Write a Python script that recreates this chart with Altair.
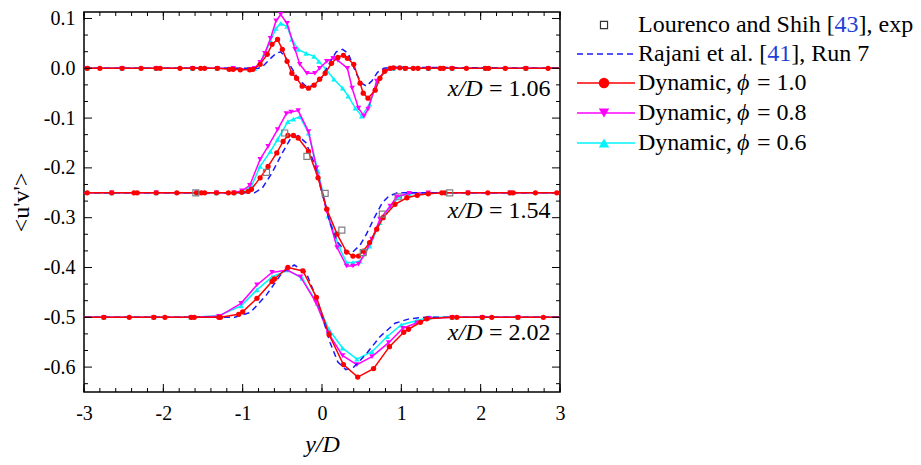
import altair as alt
import pandas as pd

SERIF = "Liberation Serif"

# ---------------- data ----------------
stations = ["1.06", "1.54", "2.02"]

red_106 = [(-3.0,0),(-2.96,0),(-2.8,0),(-2.52,0),(-2.28,0),(-2.09,0),(-2.04,0),(-1.79,0),(-1.63,0),(-1.53,0),(-1.48,0),(-1.32,0),(-1.17,-0.002),(-1.12,-0.002),(-1.03,-0.003),(-0.91,-0.003),(-0.87,-0.002),(-0.78,0.008),(-0.69,0.028),(-0.63,0.048),(-0.56,0.058),(-0.5,0.038),(-0.44,0.014),(-0.38,-0.01),(-0.32,-0.02),(-0.25,-0.036),(-0.17,-0.04),(-0.1,-0.034),(-0.03,-0.022),(0.04,-0.01),(0.12,0.01),(0.2,0.022),(0.27,0.026),(0.32,0.02),(0.4,0.008),(0.48,-0.03),(0.52,-0.05),(0.58,-0.06),(0.67,-0.044),(0.73,-0.02),(0.79,-0.006),(0.86,0.0),(0.9,0.001),(0.98,0.001),(1.05,0),(1.15,0),(1.21,0),(1.34,0),(1.49,0),(1.53,0),(1.64,0),(1.82,0),(2.06,0),(2.1,0),(2.31,0),(2.57,0),(2.85,0),(3.0,0)]
mag_106 = [(-3.0,0),(-2.96,0),(-2.52,0),(-2.09,0),(-1.63,0),(-1.32,0),(-1.12,0),(-0.91,-0.002),(-0.85,0.0),(-0.78,0.012),(-0.72,0.03),(-0.65,0.06),(-0.58,0.095),(-0.52,0.108),(-0.44,0.09),(-0.34,0.038),(-0.28,0.008),(-0.19,-0.01),(-0.09,-0.01),(-0.03,0.0),(0.06,0.014),(0.14,0.02),(0.2,0.016),(0.32,0.0),(0.38,-0.04),(0.46,-0.08),(0.53,-0.096),(0.58,-0.082),(0.69,-0.026),(0.79,-0.006),(0.9,0.0),(1.05,0),(1.34,0),(1.64,0),(2.06,0),(2.57,0),(3.0,0)]
cyan_106 = [(-3.0,0),(-2.96,0),(-2.52,0),(-2.09,0),(-1.63,0),(-1.32,0),(-1.12,0),(-0.91,-0.002),(-0.85,0.0),(-0.78,0.01),(-0.72,0.03),(-0.65,0.055),(-0.58,0.08),(-0.52,0.09),(-0.44,0.084),(-0.38,0.058),(-0.3,0.038),(-0.2,0.03),(-0.1,0.024),(-0.04,0.014),(0.05,-0.002),(0.15,-0.022),(0.26,-0.04),(0.33,-0.056),(0.42,-0.08),(0.5,-0.096),(0.6,-0.072),(0.7,-0.026),(0.8,-0.002),(0.9,0.0),(1.05,0),(1.34,0),(1.64,0),(2.06,0),(2.57,0),(3.0,0)]
blue_106 = [(-3.0,0),(-0.8,0),(-0.74,0.005),(-0.66,0.018),(-0.58,0.03),(-0.52,0.033),(-0.45,0.02),(-0.38,0.0),(-0.3,-0.022),(-0.2,-0.036),(-0.1,-0.035),(0.0,-0.018),(0.1,0.012),(0.18,0.033),(0.26,0.038),(0.33,0.03),(0.43,-0.01),(0.5,-0.03),(0.56,-0.036),(0.63,-0.025),(0.7,-0.008),(0.78,0.0),(0.9,0.002),(3.0,0)]

red_154 = [(-3.0,-0.25),(-2.96,-0.25),(-2.65,-0.25),(-2.37,-0.25),(-2.33,-0.25),(-2.09,-0.25),(-1.83,-0.25),(-1.58,-0.25),(-1.52,-0.25),(-1.48,-0.25),(-1.33,-0.25),(-1.18,-0.25),(-1.11,-0.25),(-1.01,-0.249),(-0.93,-0.247),(-0.89,-0.243),(-0.78,-0.22),(-0.68,-0.197),(-0.57,-0.17),(-0.49,-0.147),(-0.43,-0.135),(-0.36,-0.135),(-0.3,-0.14),(-0.17,-0.167),(-0.05,-0.22),(0.06,-0.283),(0.19,-0.333),(0.31,-0.369),(0.39,-0.377),(0.46,-0.377),(0.52,-0.367),(0.6,-0.35),(0.69,-0.323),(0.77,-0.3),(0.92,-0.273),(1.07,-0.26),(1.2,-0.255),(1.34,-0.252),(1.51,-0.25),(1.55,-0.25),(1.84,-0.25),(2.09,-0.25),(2.37,-0.25),(2.41,-0.25),(2.69,-0.25),(2.96,-0.25),(3.0,-0.25)]
mag_154 = [(-3.0,-0.25),(-2.65,-0.25),(-2.09,-0.25),(-1.58,-0.25),(-1.33,-0.25),(-1.11,-0.25),(-1.01,-0.246),(-0.91,-0.235),(-0.78,-0.183),(-0.68,-0.157),(-0.56,-0.123),(-0.45,-0.091),(-0.39,-0.088),(-0.3,-0.085),(-0.17,-0.127),(-0.07,-0.2),(0.06,-0.287),(0.19,-0.36),(0.31,-0.397),(0.39,-0.397),(0.46,-0.393),(0.54,-0.373),(0.63,-0.343),(0.73,-0.303),(0.86,-0.277),(0.94,-0.258),(1.1,-0.251),(1.34,-0.25),(1.84,-0.25),(2.37,-0.25),(3.0,-0.25)]
cyan_154 = [(-3.0,-0.25),(-2.65,-0.25),(-2.09,-0.25),(-1.58,-0.25),(-1.33,-0.25),(-1.11,-0.25),(-1.01,-0.247),(-0.89,-0.237),(-0.78,-0.197),(-0.65,-0.167),(-0.56,-0.143),(-0.43,-0.107),(-0.36,-0.102),(-0.28,-0.097),(-0.17,-0.13),(-0.05,-0.207),(0.08,-0.297),(0.21,-0.357),(0.31,-0.39),(0.39,-0.39),(0.48,-0.387),(0.6,-0.357),(0.73,-0.31),(0.86,-0.277),(0.98,-0.257),(1.1,-0.252),(1.34,-0.25),(1.84,-0.25),(2.37,-0.25),(3.0,-0.25)]
blue_154 = [(-3.0,-0.25),(-0.85,-0.25),(-0.75,-0.24),(-0.63,-0.21),(-0.5,-0.17),(-0.4,-0.142),(-0.3,-0.135),(-0.2,-0.15),(-0.1,-0.19),(0.0,-0.25),(0.1,-0.31),(0.2,-0.35),(0.3,-0.368),(0.38,-0.37),(0.48,-0.355),(0.56,-0.333),(0.66,-0.3),(0.76,-0.27),(0.84,-0.257),(0.95,-0.25),(3.0,-0.25)]
exp_154 = [(-1.59,-0.25),(-0.7,-0.209),(-0.47,-0.13),(-0.19,-0.177),(0.04,-0.251),(0.25,-0.325),(0.52,-0.37),(0.76,-0.293),(0.96,-0.258),(1.61,-0.25)]

red_202 = [(-3.0,-0.5),(-2.75,-0.5),(-2.43,-0.5),(-2.12,-0.5),(-1.98,-0.5),(-1.65,-0.5),(-1.61,-0.5),(-1.3,-0.5),(-1.28,-0.5),(-1.05,-0.494),(-1.0,-0.489),(-0.82,-0.462),(-0.63,-0.428),(-0.6,-0.423),(-0.43,-0.4),(-0.24,-0.407),(-0.07,-0.46),(0.09,-0.535),(0.27,-0.595),(0.45,-0.62),(0.65,-0.603),(0.85,-0.559),(1.03,-0.53),(1.09,-0.524),(1.24,-0.51),(1.32,-0.503),(1.64,-0.5),(1.7,-0.5),(2.02,-0.5),(2.14,-0.5),(2.47,-0.5),(2.79,-0.5),(3.0,-0.5)]
mag_202 = [(-3.0,-0.5),(-2.75,-0.5),(-2.12,-0.5),(-1.65,-0.5),(-1.3,-0.498),(-1.02,-0.472),(-0.82,-0.435),(-0.63,-0.41),(-0.44,-0.405),(-0.27,-0.419),(-0.08,-0.469),(0.08,-0.532),(0.26,-0.577),(0.44,-0.595),(0.63,-0.579),(0.84,-0.551),(1.02,-0.522),(1.2,-0.511),(1.35,-0.502),(1.64,-0.5),(2.02,-0.5),(2.47,-0.5),(3.0,-0.5)]
cyan_202 = [(-3.0,-0.5),(-2.75,-0.5),(-2.12,-0.5),(-1.65,-0.5),(-1.3,-0.497),(-1.02,-0.477),(-0.82,-0.445),(-0.63,-0.419),(-0.43,-0.405),(-0.25,-0.422),(-0.06,-0.472),(0.09,-0.525),(0.26,-0.562),(0.44,-0.584),(0.63,-0.569),(0.82,-0.539),(1.0,-0.515),(1.19,-0.507),(1.35,-0.5),(1.64,-0.5),(2.02,-0.5),(2.47,-0.5),(3.0,-0.5)]
blue_202 = [(-3.0,-0.5),(-1.1,-0.5),(-0.9,-0.49),(-0.7,-0.455),(-0.5,-0.41),(-0.35,-0.395),(-0.2,-0.41),(-0.05,-0.47),(0.1,-0.55),(0.2,-0.59),(0.3,-0.605),(0.4,-0.6),(0.55,-0.575),(0.73,-0.539),(0.92,-0.512),(1.1,-0.503),(1.3,-0.5),(3.0,-0.5)]

ann_x = [2.88, 2.88, 2.88]
ann_y = [-0.056, -0.30, -0.546]

x_major = [-3, -2, -1, 0, 1, 2, 3]
y_major = [-0.6, -0.5, -0.4, -0.3, -0.2, -0.1, 0.0, 0.1]
x_minor = [round(-3 + 0.2 * i, 1) for i in range(31)]
y_minor = [round(k / 30, 4) for k in range(-19, 4) if k % 3 != 0]

# ---------------- build table ----------------
rows = []
for series, groups in [
    ("red", [red_106, red_154, red_202]),
    ("mag", [mag_106, mag_154, mag_202]),
    ("cyan", [cyan_106, cyan_154, cyan_202]),
    ("blue", [blue_106, blue_154, blue_202]),
    ("exp", [[], exp_154, []]),
]:
    for st, pts in zip(stations, groups):
        for x, y in pts:
            rows.append({"series": series, "station": st, "x": x, "y": y})
df = pd.DataFrame(rows)
ann_df = pd.DataFrame({"x": ann_x, "y": ann_y, "label": ["= " + s for s in stations]})

W, H = 476, 380

xaxis = alt.Axis(values=x_major, ticks=False, tickSize=0, domain=False, grid=False,
                 labelFont=SERIF, labelFontSize=20, labelColor="black", labelPadding=11,
                 labelOverlap=False, labelFlush=False, format="d",
                 labelExpr="replace(datum.label, '\u2212', '-')",
                 title="y/D", titleFont=SERIF, titleFontStyle="italic", titleFontWeight="normal",
                 titleFontSize=24, titleColor="black", titlePadding=9)
yaxis = alt.Axis(values=y_major, ticks=False, tickSize=0, domain=False, grid=False,
                 labelFont=SERIF, labelFontSize=20, labelColor="black", labelPadding=9,
                 labelOverlap=False, labelFlush=False, format=".1f",
                 labelExpr="replace(datum.label, '\u2212', '-')",
                 title="<u'v'>", titleFont=SERIF, titleFontWeight="normal",
                 titleFontSize=24, titleColor="black", titlePadding=10)

X = alt.X("x:Q", scale=alt.Scale(domain=[-3, 3], nice=False, zero=False), axis=xaxis)
Y = alt.Y("y:Q", scale=alt.Scale(domain=[-0.65, 0.113], nice=False, zero=False), axis=yaxis)

base = alt.Chart(df)


def lines(series, color, dash=None, width=1.5):
    kw = dict(color=color, strokeWidth=width)
    if dash:
        kw["strokeDash"] = dash
    return base.transform_filter(alt.datum.series == series).mark_line(**kw).encode(
        x=X, y=Y, detail="station:N")


def points(series, color, shape, size):
    return base.transform_filter(alt.datum.series == series).transform_filter(
        "abs(datum.x) < 2.99").mark_point(shape=shape, filled=True, color=color, size=size,
                                          opacity=1).encode(x=X, y=Y)


RED, MAG, CYAN, BLUE, GRAY = "#ff0000", "#ff00ff", "#00f4fa", "#1a1aff", "#808080"

layers = [
    lines("cyan", CYAN), points("cyan", CYAN, "triangle-up", 30),
    lines("mag", MAG), points("mag", MAG, "triangle-down", 30),
    lines("blue", BLUE, dash=[6, 4]),
    lines("red", RED), points("red", RED, "circle", 28),
    base.transform_filter(alt.datum.series == "exp").mark_point(
        shape="square", filled=False, color=GRAY, size=36, strokeWidth=1.2, opacity=1
    ).encode(x=X, y=Y),
]

# tick marks (inside, all four sides)
xt_major = alt.Chart(pd.DataFrame({"x": x_major}))
xt_minor = alt.Chart(pd.DataFrame({"x": x_minor}))
yt_major = alt.Chart(pd.DataFrame({"y": y_major}))
yt_minor = alt.Chart(pd.DataFrame({"y": y_minor}))
tk = dict(color="black", strokeWidth=1)
layers += [
    xt_major.mark_rule(**tk).encode(x=X, y=alt.value(H), y2=alt.value(H - 8)),
    xt_major.mark_rule(**tk).encode(x=X, y=alt.value(0), y2=alt.value(8)),
    xt_minor.mark_rule(**tk).encode(x=X, y=alt.value(H), y2=alt.value(H - 4)),
    xt_minor.mark_rule(**tk).encode(x=X, y=alt.value(0), y2=alt.value(4)),
    yt_major.mark_rule(**tk).encode(y=Y, x=alt.value(0), x2=alt.value(8)),
    yt_major.mark_rule(**tk).encode(y=Y, x=alt.value(W), x2=alt.value(W - 8)),
    yt_minor.mark_rule(**tk).encode(y=Y, x=alt.value(0), x2=alt.value(4)),
    yt_minor.mark_rule(**tk).encode(y=Y, x=alt.value(W), x2=alt.value(W - 4)),
]

# station annotations
ann = alt.Chart(ann_df)
layers += [
    ann.mark_text(align="right", baseline="alphabetic", font=SERIF, fontSize=24,
                  color="black").encode(x=X, y=Y, text="label:N"),
    ann.mark_text(align="right", baseline="alphabetic", font=SERIF, fontSize=24,
                  fontStyle="italic", color="black", dx=-68, text="x/D").encode(x=X, y=Y),
]

# legend (drawn manually to the right of the plot)
one = alt.Chart(pd.DataFrame({"a": [0]}))
LX0, LX1, LXM, LT = 493, 551, 520, 554
rows_y = [13, 42, 71, 101, 131]


def ltext(txt, x, y, color="black", style="normal"):
    return one.mark_text(text=txt, align="left", baseline="middle", font=SERIF, fontSize=24,
                         color=color, fontStyle=style).encode(x=alt.value(x), y=alt.value(y))


y0, y1, y2, y3, y4 = rows_y
layers += [
    one.mark_point(shape="square", filled=False, color="#333333", size=50, strokeWidth=1.2,
                   opacity=1).encode(x=alt.value(LXM), y=alt.value(y0)),
    ltext("Lourenco and Shih [", LT, y0), ltext("43", LT + 196.6, y0, color="#1f3fd8"),
    ltext("], exp", LT + 220.6, y0),
    one.mark_rule(color=BLUE, strokeWidth=1.5, strokeDash=[6, 4]).encode(
        x=alt.value(LX0), x2=alt.value(LX1), y=alt.value(y1)),
    ltext("Rajani et al. [", LT, y1), ltext("41", LT + 129.3, y1, color="#1f3fd8"),
    ltext("], Run 7", LT + 153.3, y1),
]
for yy, col, shp, val in [(y2, RED, "circle", "1.0"), (y3, MAG, "triangle-down", "0.8"),
                          (y4, CYAN, "triangle-up", "0.6")]:
    layers += [
        one.mark_rule(color=col, strokeWidth=1.5).encode(
            x=alt.value(LX0), x2=alt.value(LX1), y=alt.value(yy)),
        one.mark_point(shape=shp, filled=True, color=col, size=110, opacity=1).encode(
            x=alt.value(LXM), y=alt.value(yy)),
        ltext("Dynamic,", LT, yy), ltext("\u03d5", LT + 99, yy, style="italic"),
        ltext("= " + val, LT + 119, yy),
    ]

chart = alt.layer(*layers).properties(
    width=W, height=H,
    autosize=alt.AutoSizeParams(type="none"),
    padding={"left": 76, "top": 4, "right": 353, "bottom": 65},
    background="white",
).configure_view(stroke="black", strokeWidth=1.5)

chart.save("out.html", embed_options={"renderer": "svg", "actions": False})
